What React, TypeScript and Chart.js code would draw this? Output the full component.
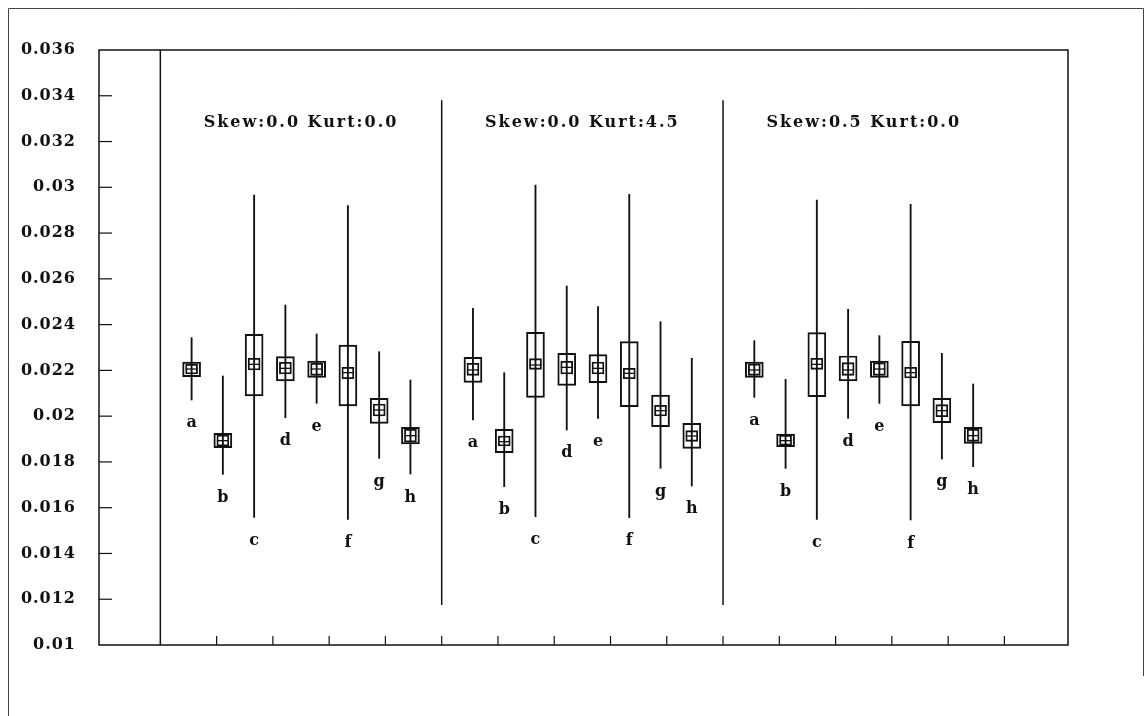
import React, { useEffect, useRef } from 'react';
import { Chart, registerables } from 'chart.js';

Chart.register(...registerables);

// Category letters shown under each box, and the three panel headings
const boxLabels = ['a', 'b', 'c', 'd', 'e', 'f', 'g', 'h'];
const panelTitles = ['Skew:0.0 Kurt:0.0', 'Skew:0.0 Kurt:4.5', 'Skew:0.5 Kurt:0.0'];

// Axis tick values
const yTickValues = [0.01, 0.012, 0.014, 0.016, 0.018, 0.02, 0.022, 0.024, 0.026, 0.028, 0.03, 0.032, 0.034, 0.036];
const xTickValues = [1, 2, 3, 4, 5, 6, 7, 8, 9, 10, 11, 12, 13, 14, 15];

// Panel 1: Skew 0.0, Kurt 0.0
const p1Max = [0.02343, 0.021755, 0.029664, 0.024857, 0.02359, 0.029198, 0.022818, 0.02158];
const p1Min = [0.020706, 0.017458, 0.015579, 0.019934, 0.02056, 0.015491, 0.018157, 0.017472];
const p1Q3 = [0.022366, 0.019249, 0.023575, 0.022599, 0.02241, 0.023109, 0.020779, 0.019511];
const p1Q1 = [0.021725, 0.018623, 0.020881, 0.021536, 0.021696, 0.020444, 0.019686, 0.018783];
const p1CiHi = [0.022264, 0.019176, 0.022527, 0.022352, 0.022308, 0.022133, 0.020531, 0.019424];
const p1CiLo = [0.021842, 0.018696, 0.022017, 0.021842, 0.021784, 0.021638, 0.020007, 0.018871];
const p1Mean = [0.02206, 0.018929, 0.022264, 0.02209, 0.02206, 0.0219, 0.020269, 0.019147];

// Panel 2: Skew 0.0, Kurt 4.5
const p2Max = [0.024711, 0.0219, 0.030101, 0.025687, 0.024784, 0.029693, 0.024129, 0.022527];
const p2Min = [0.019832, 0.016919, 0.015608, 0.019395, 0.019905, 0.015564, 0.01772, 0.016948];
const p2Q3 = [0.02257, 0.019424, 0.023663, 0.022745, 0.022687, 0.023255, 0.020924, 0.019686];
const p2Q1 = [0.021478, 0.018404, 0.020822, 0.021347, 0.021463, 0.020414, 0.019541, 0.018594];
const p2CiHi = [0.022308, 0.019133, 0.022512, 0.022396, 0.022366, 0.02209, 0.020473, 0.019366];
const p2CiLo = [0.021784, 0.018696, 0.022046, 0.021842, 0.021842, 0.021638, 0.020007, 0.0189];
const p2Mean = [0.022017, 0.018885, 0.022235, 0.022133, 0.02209, 0.021871, 0.02024, 0.019133];

// Panel 3: Skew 0.5, Kurt 0.0
const p3Max = [0.023299, 0.021609, 0.029445, 0.024668, 0.023517, 0.029256, 0.022745, 0.021405];
const p3Min = [0.020822, 0.01772, 0.015491, 0.019905, 0.02056, 0.015462, 0.018128, 0.017793];
const p3Q3 = [0.022366, 0.01922, 0.023648, 0.022629, 0.02241, 0.023269, 0.020779, 0.019511];
const p3Q1 = [0.021696, 0.018667, 0.020852, 0.021536, 0.021696, 0.020444, 0.019715, 0.018812];
const p3CiHi = [0.022279, 0.019162, 0.022527, 0.022337, 0.022337, 0.022133, 0.020502, 0.019424];
const p3CiLo = [0.021784, 0.018725, 0.022046, 0.021784, 0.021784, 0.021667, 0.019978, 0.0189];
const p3Mean = [0.022017, 0.018929, 0.022264, 0.022017, 0.02206, 0.0219, 0.02024, 0.019147];

type Panel = { max: number[]; min: number[]; q3: number[]; q1: number[]; ciHi: number[]; ciLo: number[]; mean: number[] };

const panels: Panel[] = [
  { max: p1Max, min: p1Min, q3: p1Q3, q1: p1Q1, ciHi: p1CiHi, ciLo: p1CiLo, mean: p1Mean },
  { max: p2Max, min: p2Min, q3: p2Q3, q1: p2Q1, ciHi: p2CiHi, ciLo: p2CiLo, mean: p2Mean },
  { max: p3Max, min: p3Min, q3: p3Q3, q1: p3Q1, ciHi: p3CiHi, ciLo: p3CiLo, mean: p3Mean },
];

const PANEL_SPAN = 5; // x units per panel
const SLOTS = 9; // boxes sit on slot boundaries 1..8
const TITLE_LEVEL = 0.0328;
const DIVIDER_TOP = 0.0338;
const DIVIDER_BOTTOM = 0.01175;
const INK = '#111';
const FONT = '"DejaVu Serif", serif';

const boxX = (p: number, k: number) => p * PANEL_SPAN + ((k + 1) * PANEL_SPAN) / SLOTS;

const decorations = {
  id: 'decorations',
  beforeDraw(chart: any) {
    // slightly spaced digits for the value-axis labels
    chart.ctx.letterSpacing = '1px';
  },
  afterDraw(chart: any) {
    const { ctx, chartArea: ca, scales } = chart;
    const x = scales.x;
    const y = scales.y;
    const line = (x1: number, y1: number, x2: number, y2: number) => {
      ctx.beginPath();
      ctx.moveTo(x1, y1);
      ctx.lineTo(x2, y2);
      ctx.stroke();
    };
    ctx.save();
    ctx.strokeStyle = INK;
    ctx.lineWidth = 1.5;
    // plot frame
    ctx.strokeRect(ca.left, ca.top, ca.right - ca.left, ca.bottom - ca.top);
    // start of the data region
    const x0 = x.getPixelForValue(0);
    line(x0, ca.top, x0, ca.bottom);
    // panel dividers
    for (let p = 1; p < panels.length; p++) {
      const px = x.getPixelForValue(p * PANEL_SPAN);
      line(px, y.getPixelForValue(DIVIDER_TOP), px, y.getPixelForValue(DIVIDER_BOTTOM));
    }
    // inward tick marks
    ctx.lineWidth = 1.2;
    y.ticks.forEach((t: any) => {
      if (t.value > y.min + 1e-9 && t.value < y.max - 1e-9) {
        const py = y.getPixelForValue(t.value);
        line(ca.left, py, ca.left + 13, py);
      }
    });
    x.ticks.forEach((t: any) => {
      const px = x.getPixelForValue(t.value);
      line(px, ca.bottom, px, ca.bottom - 9);
    });
    // page frame
    ctx.strokeStyle = '#444';
    ctx.lineWidth = 1;
    line(8.5, 8.5, 8.5, 716);
    line(8.5, 8.5, 1143.5, 8.5);
    line(1143.5, 8.5, 1143.5, 676);

    // headings and category letters
    ctx.letterSpacing = '2px';
    ctx.fillStyle = INK;
    ctx.font = `bold 16px ${FONT}`;
    ctx.textAlign = 'center';
    ctx.textBaseline = 'middle';
    panelTitles.forEach((t, p) => {
      ctx.fillText(t, x.getPixelForValue(p * PANEL_SPAN + PANEL_SPAN / 2), y.getPixelForValue(TITLE_LEVEL));
    });
    ctx.letterSpacing = '0px';
    ctx.textBaseline = 'alphabetic';
    panels.forEach((pn, p) => {
      boxLabels.forEach((l, k) => {
        ctx.fillText(l, x.getPixelForValue(boxX(p, k)), y.getPixelForValue(pn.min[k]) + 27.5);
      });
    });
    ctx.restore();
    ctx.letterSpacing = '0px';
  },
};

export default function App() {
  const ref = useRef<HTMLCanvasElement>(null);

  useEffect(() => {
    if (!ref.current) return;
    const range = (lo: (pn: Panel) => number[], hi: (pn: Panel) => number[]) =>
      panels.flatMap((pn, p) => boxLabels.map((_, k) => ({ x: boxX(p, k), y: [lo(pn)[k], hi(pn)[k]] })));
    const outer = range((pn) => pn.q1, (pn) => pn.q3);
    const inner = range((pn) => pn.ciLo, (pn) => pn.ciHi);
    const whiskers = range((pn) => pn.min, (pn) => pn.max);
    const means = panels.flatMap((pn, p) => boxLabels.map((_, k) => ({ x: boxX(p, k), y: pn.mean[k] })));

    const chart = new Chart(ref.current, {
      type: 'bar',
      data: {
        datasets: [
          {
            type: 'bar',
            data: outer as any,
            barThickness: 18,
            grouped: false,
            backgroundColor: 'rgba(0,0,0,0)',
            borderColor: INK,
            borderWidth: 1.3,
            borderSkipped: false,
          },
          {
            type: 'bar',
            data: inner as any,
            barThickness: 12,
            grouped: false,
            backgroundColor: 'rgba(0,0,0,0)',
            borderColor: INK,
            borderWidth: 1.2,
            borderSkipped: false,
          },
          {
            type: 'bar',
            data: whiskers as any,
            barThickness: 1.2,
            grouped: false,
            backgroundColor: INK,
            borderWidth: 0,
          },
          {
            type: 'line',
            data: means as any,
            showLine: false,
            pointStyle: 'line',
            pointRadius: 6,
            pointHoverRadius: 6,
            pointBorderWidth: 1.3,
            pointBorderColor: INK,
            pointBackgroundColor: INK,
          },
        ],
      },
      options: {
        responsive: false,
        animation: false,
        events: [],
        layout: { padding: { left: 0, top: 50, right: 77, bottom: 71 } },
        plugins: { legend: { display: false }, tooltip: { enabled: false } },
        scales: {
          x: {
            type: 'linear',
            min: -1.09,
            max: 16.13,
            offset: false,
            grid: { display: false },
            border: { display: false },
            ticks: { display: false },
            afterBuildTicks: (s: any) => {
              s.ticks = xTickValues.map((v) => ({ value: v }));
            },
            afterFit: (s: any) => {
              s.height = 0;
            },
          },
          y: {
            type: 'linear',
            min: 0.01,
            max: 0.036,
            grid: { display: false },
            border: { display: false },
            afterBuildTicks: (s: any) => {
              s.ticks = yTickValues.map((v) => ({ value: v }));
            },
            afterFit: (s: any) => {
              s.width = 99;
            },
            ticks: {
              padding: 15,
              color: INK,
              font: { family: FONT, size: 16, weight: 'bold' },
              autoSkip: false,
              callback: (v: any) => String(Number(Number(v).toFixed(3))),
            },
          },
        },
      },
      plugins: [decorations],
    });
    return () => chart.destroy();
  }, []);

  return (
    <div style={{ position: 'absolute', left: 0, top: 0, width: 1145, height: 716, background: '#fff' }}>
      <canvas ref={ref} width={1145} height={716} />
    </div>
  );
}
